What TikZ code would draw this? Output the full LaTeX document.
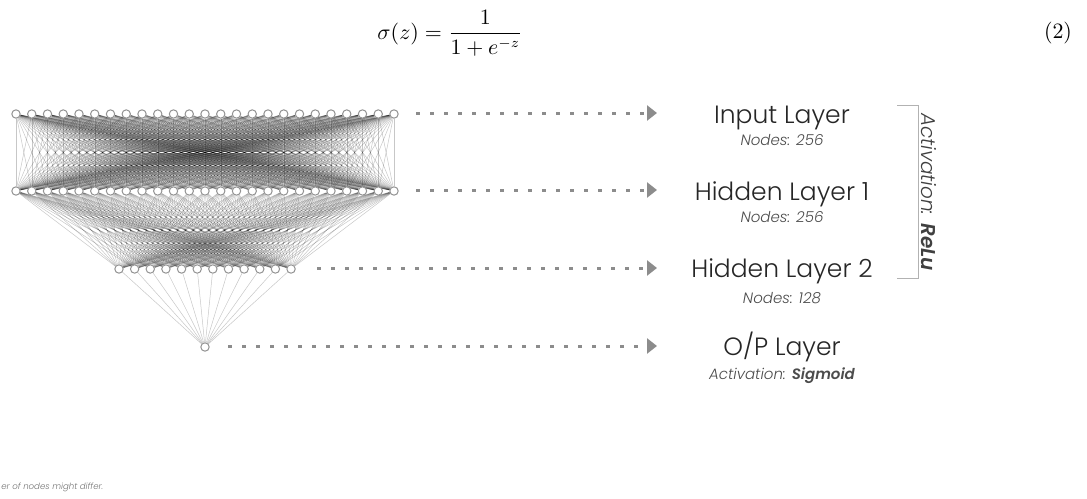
\documentclass[tikz,border=0pt]{standalone}
\usepackage[no-math]{fontspec}
\setmainfont{Poppins Light}[ItalicFont={Poppins Light Italic},BoldItalicFont={Poppins SemiBold Italic}]
\usetikzlibrary{arrows.meta,backgrounds}

\tikzset{
  neuron/.style={circle, draw=gray!85, fill=white, line width=0.5pt, minimum size=4.2pt, inner sep=0pt},
  link/.style={draw=black, draw opacity=0.22, line width=0.25pt},
  flow/.style={gray!90, line width=1.5pt, dash pattern=on 2pt off 5pt, -{Triangle[length=5pt,width=7.5pt]}},
  layername/.style={anchor=base, font=\fontsize{12.5}{14}\selectfont, text=black!85},
  layerinfo/.style={anchor=base, font=\fontsize{7.5}{9}\selectfont\itshape, text=black!70},
}

\begin{document}
\begin{tikzpicture}[x=0.5pt, y=-0.5pt]
    \useasboundingbox (0,0) rectangle (1087,498);

    % Equation
    \node (eq) at (450,33) {\fontsize{10.5}{12}\selectfont $\displaystyle \sigma(z)=\frac{1}{1+e^{-z}}$};
    \node (eqno) at (1058,33) {\fontsize{10.5}{12}\selectfont $(2)$};

    % Neurons
    \foreach \i in {1,...,25} {
        \node[neuron] (in\i) at ({16+(\i-1)*15.75},114) {};
        \node[neuron] (hA\i) at ({16+(\i-1)*15.75},191) {};
    }
    \foreach \k in {1,...,12}
        \node[neuron] (hB\k) at ({119+(\k-1)*15.64},269) {};
    \node[neuron] (out) at (205,347) {};

    % Weights between the layers
    \begin{scope}[on background layer]
        \foreach \i in {1,...,25}
            \foreach \j in {1,...,25}
                \draw[link] (in\i) -- (hA\j);
        \foreach \i in {1,...,25}
            \foreach \k in {1,...,12}
                \draw[link] (hA\i) -- (hB\k);
        \foreach \k in {1,...,12}
            \draw[link] (hB\k) -- (out);
    \end{scope}

    % Layer names
    \node[layername] (inname) at (782,123) {Input Layer};
    \node[layerinfo] (ininfo) at (782,145) {Nodes: 256};
    \node[layername] (hAname) at (782,200) {Hidden Layer 1};
    \node[layerinfo] (hAinfo) at (782,222) {Nodes: 256};
    \node[layername] (hBname) at (782,277) {Hidden Layer 2};
    \node[layerinfo] (hBinfo) at (782,303) {Nodes: 128};
    \node[layername] (outname) at (782,355) {O/P Layer};
    \node[layerinfo] (outinfo) at (782,379) {Activation: \textbf{Sigmoid}};

    % Dotted arrows to the names
    \coordinate (inA) at (416,113);   \coordinate (inB) at (657,113);
    \coordinate (hAA) at (416,190);   \coordinate (hAB) at (657,190);
    \coordinate (hBA) at (317,268);   \coordinate (hBB) at (657,268);
    \coordinate (outA) at (228,346);  \coordinate (outB) at (657,346);
    \draw[flow] (inA) -- (inB);
    \draw[flow] (hAA) -- (hAB);
    \draw[flow] (hBA) -- (hBB);
    \draw[flow] (outA) -- (outB);

    % ReLu bracket
    \draw[gray!60, line width=0.4pt] (897,105) -- (918,105) -- (918,278) -- (897,278);
    \node[rotate=-90, font=\fontsize{10}{12}\selectfont\itshape, text=black!75] (act) at (929,192) {Activation: \textbf{ReLu}};

    % Note at the bottom
    \node[anchor=base west, inner sep=0pt, font=\fontsize{4.3}{5}\selectfont\itshape, text=black!55] (note) at (1,489) {er of nodes might differ.};
\end{tikzpicture}
\end{document}
